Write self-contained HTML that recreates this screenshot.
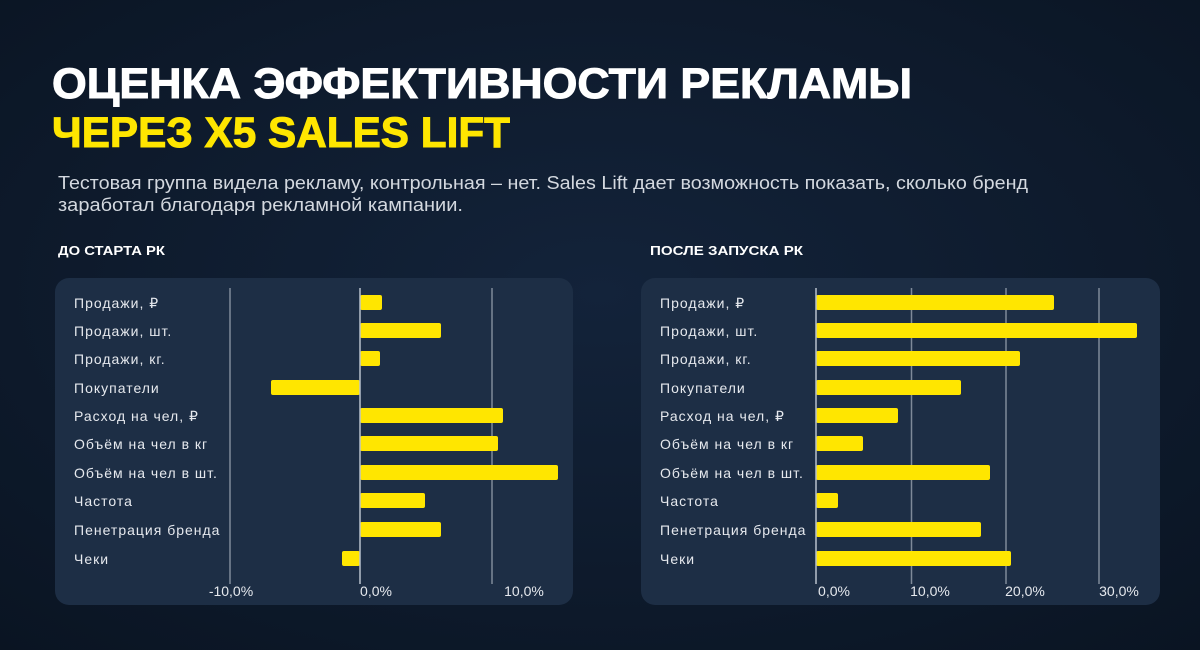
<!DOCTYPE html>
<html><head><meta charset="utf-8"><style>
html,body{margin:0;padding:0;width:1200px;height:650px;overflow:hidden;background:#0c1727;}
</style></head><body>
<svg width="1200" height="650" viewBox="0 0 1200 650" xmlns="http://www.w3.org/2000/svg" font-family="Liberation Sans, sans-serif">
<defs>
<radialGradient id="bg" cx="0.5" cy="0.45" r="0.75">
<stop offset="0" stop-color="#13233a"/><stop offset="1" stop-color="#0a1422"/>
</radialGradient>
</defs>
<rect width="1200" height="650" fill="url(#bg)"/>
<text x="52" y="98" font-size="43" font-weight="bold" fill="#ffffff" stroke="#ffffff" stroke-width="1" textLength="860" lengthAdjust="spacingAndGlyphs">ОЦЕНКА ЭФФЕКТИВНОСТИ РЕКЛАМЫ</text>
<text x="52" y="147" font-size="43" font-weight="bold" fill="#ffe600" stroke="#ffe600" stroke-width="1" textLength="458" lengthAdjust="spacingAndGlyphs">ЧЕРЕЗ X5 SALES LIFT</text>
<text x="58" y="189" font-size="18" fill="#d3d8df" textLength="970" lengthAdjust="spacingAndGlyphs">Тестовая группа видела рекламу, контрольная – нет. Sales Lift дает возможность показать, сколько бренд</text>
<text x="58" y="211" font-size="18" fill="#d3d8df" textLength="405" lengthAdjust="spacingAndGlyphs">заработал благодаря рекламной кампании.</text>
<text x="58" y="255" font-size="13" font-weight="bold" fill="#ffffff" textLength="107" lengthAdjust="spacingAndGlyphs">ДО СТАРТА РК</text>
<text x="650" y="255" font-size="13" font-weight="bold" fill="#ffffff" textLength="153" lengthAdjust="spacingAndGlyphs">ПОСЛЕ ЗАПУСКА РК</text>

<rect x="55" y="278" width="518" height="327" rx="14" fill="#1d2e45"/>
<rect x="641" y="278" width="519" height="327" rx="14" fill="#1d2e45"/>

<g stroke="#7f8a99" stroke-width="1.5">
<line x1="230" y1="288" x2="230" y2="584"/><line x1="492" y1="288" x2="492" y2="584"/>
<line x1="911.5" y1="288" x2="911.5" y2="584"/><line x1="1006" y1="288" x2="1006" y2="584"/><line x1="1099" y1="288" x2="1099" y2="584"/>
</g>

<g fill="#ffe600">
<rect x="360" y="295" width="22" height="15" rx="2"/>
<rect x="360" y="323" width="81" height="15" rx="2"/>
<rect x="360" y="351" width="20" height="15" rx="2"/>
<rect x="271" y="380" width="89" height="15" rx="2"/>
<rect x="360" y="408" width="143" height="15" rx="2"/>
<rect x="360" y="436" width="138" height="15" rx="2"/>
<rect x="360" y="465" width="198" height="15" rx="2"/>
<rect x="360" y="493" width="65" height="15" rx="2"/>
<rect x="360" y="522" width="81" height="15" rx="2"/>
<rect x="342" y="551" width="18" height="15" rx="2"/>

<rect x="816" y="295" width="238" height="15" rx="2"/>
<rect x="816" y="323" width="321" height="15" rx="2"/>
<rect x="816" y="351" width="204" height="15" rx="2"/>
<rect x="816" y="380" width="145" height="15" rx="2"/>
<rect x="816" y="408" width="82" height="15" rx="2"/>
<rect x="816" y="436" width="47" height="15" rx="2"/>
<rect x="816" y="465" width="174" height="15" rx="2"/>
<rect x="816" y="493" width="22" height="15" rx="2"/>
<rect x="816" y="522" width="165" height="15" rx="2"/>
<rect x="816" y="551" width="195" height="15" rx="2"/>
</g>
<g stroke="#b8c0cc" stroke-width="1.5">
<line x1="360" y1="288" x2="360" y2="584"/>
<line x1="816" y1="288" x2="816" y2="584"/>
</g>

<g font-size="14" fill="#e6e9ee" letter-spacing="1">
<text x="74" y="308">Продажи, ₽</text>
<text x="74" y="336">Продажи, шт.</text>
<text x="74" y="364">Продажи, кг.</text>
<text x="74" y="393">Покупатели</text>
<text x="74" y="421">Расход на чел, ₽</text>
<text x="74" y="449">Объём на чел в кг</text>
<text x="74" y="478">Объём на чел в шт.</text>
<text x="74" y="506">Частота</text>
<text x="74" y="535">Пенетрация бренда</text>
<text x="74" y="564">Чеки</text>

<text x="660" y="308">Продажи, ₽</text>
<text x="660" y="336">Продажи, шт.</text>
<text x="660" y="364">Продажи, кг.</text>
<text x="660" y="393">Покупатели</text>
<text x="660" y="421">Расход на чел, ₽</text>
<text x="660" y="449">Объём на чел в кг</text>
<text x="660" y="478">Объём на чел в шт.</text>
<text x="660" y="506">Частота</text>
<text x="660" y="535">Пенетрация бренда</text>
<text x="660" y="564">Чеки</text>
</g>
<g font-size="14" fill="#e6e9ee" text-anchor="middle">
<text x="231" y="596">-10,0%</text>
<text x="376" y="596">0,0%</text>
<text x="524" y="596">10,0%</text>
<text x="834" y="596">0,0%</text>
<text x="930" y="596">10,0%</text>
<text x="1025" y="596">20,0%</text>
<text x="1119" y="596">30,0%</text>
</g>
</svg>
</body></html>
